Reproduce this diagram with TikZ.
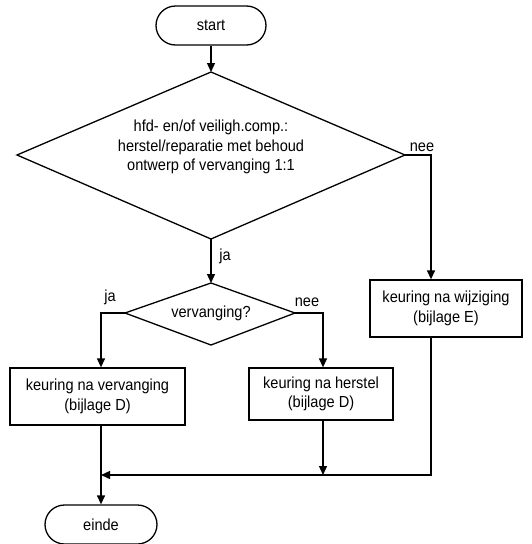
\documentclass[tikz,border=0pt]{standalone}
\usepackage{fontspec}
\setmainfont[FakeStretch=0.91]{Liberation Sans}
\usetikzlibrary{shapes.geometric,shapes.misc,arrows.meta}
\begin{document}
\begin{tikzpicture}[x=1pt,y=-1pt,
  every node/.style={font=\fontsize{16}{19.6}\selectfont,inner sep=0pt,align=center},
  term/.style={draw,line width=1.3pt,rounded rectangle,minimum width=110pt,minimum height=39pt},
  box/.style={draw,line width=1.3pt,rectangle},
  lab/.style={font=\fontsize{16}{18}\selectfont},
  conn/.style={line width=1.3pt},
  arr/.style={conn,-{Triangle[length=9pt,width=8pt]}}]
\useasboundingbox (0,0) rectangle (531,544);
\node[term] (start) at (211,25.5) {start};
\coordinate (d1t) at (211,72);
\coordinate (d1l) at (17,155);
\coordinate (d1r) at (405,155);
\coordinate (d1b) at (211,239);
\draw[conn] (d1t) -- (d1r) -- (d1b) -- (d1l) -- cycle;
\node (d1) at (211,147) {hfd- en/of veiligh.comp.:\\herstel/reparatie met behoud\\ontwerp of vervanging 1:1};
\coordinate (d2t) at (211,283);
\coordinate (d2l) at (125,313);
\coordinate (d2r) at (295,313);
\coordinate (d2b) at (211,345);
\draw[conn] (d2t) -- (d2r) -- (d2b) -- (d2l) -- cycle;
\node (d2) at (211,313) {vervanging?};
\node[box,minimum width=175pt,minimum height=57pt] (bv) at (97.5,396.5) {keuring na vervanging\\(bijlage D)};
\node[box,minimum width=144pt,minimum height=52pt] (bh) at (321,394) {keuring na herstel\\(bijlage D)};
\node[box,minimum width=152pt,minimum height=57pt] (bw) at (446,308.5) {keuring na wijziging\\(bijlage E)};
\node[term,minimum width=112pt] (einde) at (101,524.5) {einde};
\coordinate (m) at (101,475);
% connectors
\draw[arr] (start.south) -- (d1t);
\draw[arr] (d1b) -- (d2t);
\draw[arr] (d1r) -- (431,155) -- (bw.north -| 431,0);
\draw[arr] (d2l) -- (101,313) -- (bv.north -| 101,0);
\draw[arr] (d2r) -- (323,313) -- (bh.north -| 323,0);
\draw[arr] (bh.south -| 323,0) -- (323,475);
\draw[arr] (bw.south -| 431,0) -- (431,475) -- (m);
\draw[arr] (bv.south -| 101,0) -- (einde.north -| 101,0);
% labels
\node[lab] (l1) at (422,147) {nee};
\node[lab] (l2) at (225,256) {ja};
\node[lab] (l3) at (110,297) {ja};
\node[lab] (l4) at (307,302) {nee};
\end{tikzpicture}
\end{document}
